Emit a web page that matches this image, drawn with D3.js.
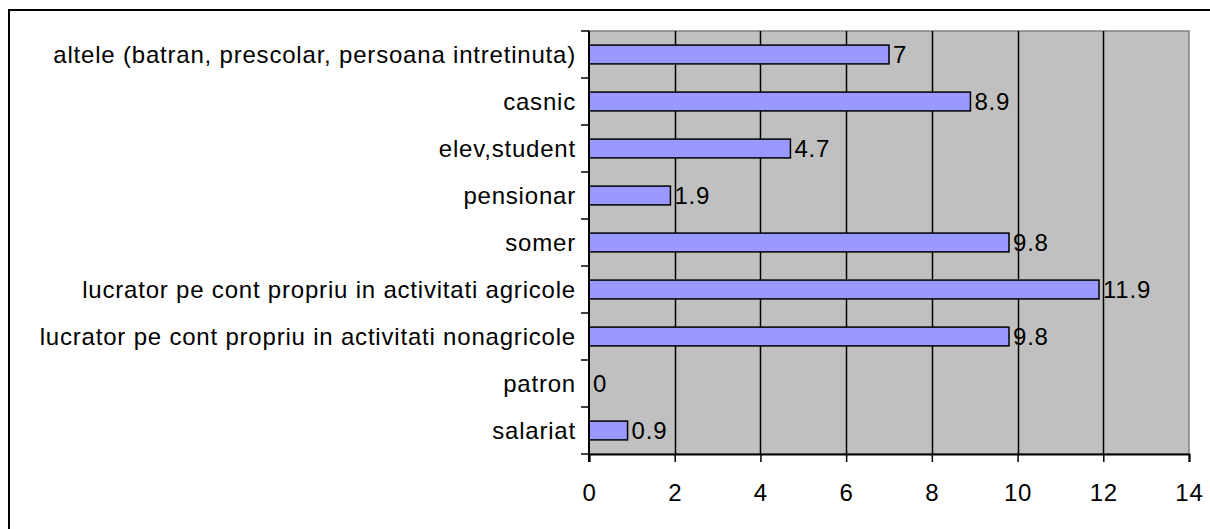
<!DOCTYPE html>
<html>
<head>
<meta charset="utf-8">
<script src="https://cdn.jsdelivr.net/npm/d3@7"></script>
<style>
  html, body { margin: 0; padding: 0; background: #fff; }
  svg { display: block; }
  text { font-family: "Liberation Sans", Arial, sans-serif; fill: #000; letter-spacing: 0.8px; }
</style>
</head>
<body>
<svg id="chart" width="1210" height="529"></svg>
<script>
// categories top to bottom, as drawn
const categories = [
  'altele (batran, prescolar, persoana intretinuta)',
  'casnic',
  'elev,student',
  'pensionar',
  'somer',
  'lucrator pe cont propriu in activitati agricole',
  'lucrator pe cont propriu in activitati nonagricole',
  'patron',
  'salariat'
];
const values = [7, 8.9, 4.7, 1.9, 9.8, 11.9, 9.8, 0, 0.9];
const xTicks = [0, 2, 4, 6, 8, 10, 12, 14];

const svg = d3.select('#chart');
const fontSize = 24;

// outer frame (right/bottom fall outside the window)
svg.append('rect')
  .attr('x', 9).attr('y', 10)
  .attr('width', 1220).attr('height', 540)
  .attr('fill', '#fff')
  .attr('stroke', '#000')
  .attr('stroke-width', 2);

const plot = { left: 589, right: 1189, top: 31, bottom: 454 };

const x = d3.scaleLinear()
  .domain([0, 14])
  .range([plot.left, plot.right]);

const y = d3.scaleBand()
  .domain(categories)
  .range([plot.top, plot.bottom])
  .paddingInner(0.6)
  .paddingOuter(0.3);

// plot background
svg.append('rect')
  .attr('x', plot.left).attr('y', plot.top)
  .attr('width', plot.right - plot.left)
  .attr('height', plot.bottom - plot.top)
  .attr('fill', '#c0c0c0')
  .attr('stroke', '#808080')
  .attr('stroke-width', 1.5);

// gridlines
svg.append('g')
  .selectAll('line')
  .data(xTicks.filter(d => d > 0 && d < 14))
  .join('line')
  .attr('x1', d => Math.round(x(d)) + 0.5)
  .attr('x2', d => Math.round(x(d)) + 0.5)
  .attr('y1', plot.top)
  .attr('y2', plot.bottom)
  .attr('stroke', '#000')
  .attr('stroke-width', 1.5);

// bars
svg.append('g')
  .selectAll('rect')
  .data(values)
  .join('rect')
  .attr('x', x(0))
  .attr('y', (d, i) => y(categories[i]))
  .attr('width', d => x(d) - x(0))
  .attr('height', y.bandwidth())
  .attr('fill', '#9999ff')
  .attr('stroke', '#000')
  .attr('stroke-width', d => d > 0 ? 1.5 : 0);

// value labels
svg.append('g')
  .selectAll('text')
  .data(values)
  .join('text')
  .attr('x', d => x(d) + 4)
  .attr('y', (d, i) => y(categories[i]) + y.bandwidth() / 2)
  .attr('dy', '0.36em')
  .style('font-size', fontSize + 'px')
  .text(d => d);

// x axis
const xAxis = svg.append('g')
  .attr('transform', `translate(0,${plot.bottom})`)
  .call(d3.axisBottom(x).tickValues(xTicks).tickSize(8).tickPadding(22).tickFormat(d3.format('d')));
xAxis.select('.domain').attr('stroke', '#000').attr('stroke-width', 2);
xAxis.selectAll('.tick line').attr('stroke', '#000').attr('stroke-width', 1.5);
xAxis.selectAll('.tick text')
  .attr('font-family', null)
  .style('font-size', fontSize + 'px');

// y axis: ticks sit on band boundaries, labels at band centres
const bounds = d3.range(categories.length + 1).map(i => plot.top + i * (plot.bottom - plot.top) / categories.length);
const yAxis = svg.append('g');
yAxis.append('line')
  .attr('x1', plot.left).attr('x2', plot.left)
  .attr('y1', plot.top).attr('y2', plot.bottom + 8)
  .attr('stroke', '#000').attr('stroke-width', 2);
yAxis.selectAll('.ytick')
  .data(bounds)
  .join('line')
  .attr('class', 'ytick')
  .attr('x1', plot.left - 8).attr('x2', plot.left)
  .attr('y1', d => d).attr('y2', d => d)
  .attr('stroke', '#000').attr('stroke-width', 1.5);
yAxis.selectAll('text')
  .data(categories)
  .join('text')
  .attr('x', plot.left - 13)
  .attr('y', d => y(d) + y.bandwidth() / 2)
  .attr('dy', '0.36em')
  .attr('text-anchor', 'end')
  .style('font-size', fontSize + 'px')
  .text(d => d);
</script>
</body>
</html>
